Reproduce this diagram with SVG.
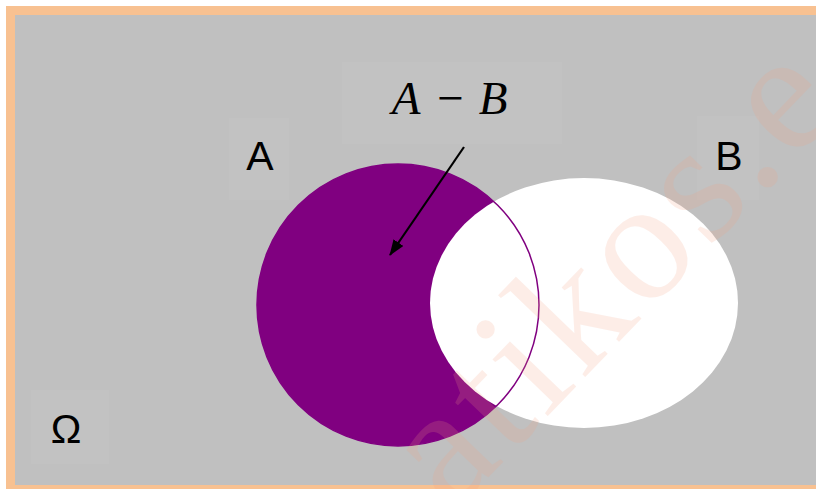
<svg xmlns="http://www.w3.org/2000/svg" width="816" height="489" viewBox="0 0 816 489">
  <defs>
    <style>
      .lbl { font-family: "Liberation Sans", Arial, sans-serif; font-size: 41px; fill: #000; text-anchor: middle; }
      .math { font-family: "Liberation Serif", "DejaVu Serif", serif; font-style: italic; font-size: 47px; fill: #000; text-anchor: middle; }
      .pad { fill: #c2c2c2; }
    </style>
    <marker id="ah" viewBox="0 0 16 12" refX="15" refY="6" markerWidth="16" markerHeight="12" markerUnits="userSpaceOnUse" orient="auto">
      <path d="M0,0 L16,6 L0,12 z" fill="#000"/>
    </marker>
  </defs>
  <rect x="0" y="0" width="816" height="489" fill="#ffffff"/>
  <rect x="10.5" y="10.5" width="820" height="479" fill="#c0c0c0" stroke="#f8c191" stroke-width="9"/>

  <g id="label-pads">
    <rect class="pad" x="342" y="62" width="220" height="82"/>
    <rect class="pad" x="229" y="118" width="60" height="82"/>
    <rect class="pad" x="697" y="116" width="62" height="84"/>
    <rect class="pad" x="31" y="390" width="78" height="74"/>
  </g>

  <g id="setA">
    <circle cx="398" cy="305" r="141" fill="#800080"/>
  </g>
  <g id="setB">
    <ellipse cx="584" cy="303" rx="154" ry="125" fill="#ffffff"/>
  </g>
  <g id="setA-outline">
    <circle cx="398" cy="305" r="141" fill="none" stroke="#800080" stroke-width="1.5"/>
  </g>

  <g id="watermark" opacity="0.18">
    <text x="0" y="0" transform="translate(452,515) rotate(-46)" font-family="Liberation Serif, serif" font-size="172" fill="#f5a080" letter-spacing="5">atikos.e</text>
  </g>

  <g id="connectors">
    <line x1="464" y1="147" x2="390" y2="255" stroke="#000" stroke-width="2.2" marker-end="url(#ah)"/>
  </g>

  <g id="label-AminusB">
    <text class="math" x="406" y="114">A</text>
    <text class="math" x="450" y="114" font-style="normal">−</text>
    <text class="math" x="493" y="114">B</text>
  </g>
  <g id="label-A"><text class="lbl" x="260" y="170">A</text></g>
  <g id="label-B"><text class="lbl" x="729" y="170">B</text></g>
  <g id="label-Omega"><text class="lbl" x="66" y="443">Ω</text></g>
</svg>
